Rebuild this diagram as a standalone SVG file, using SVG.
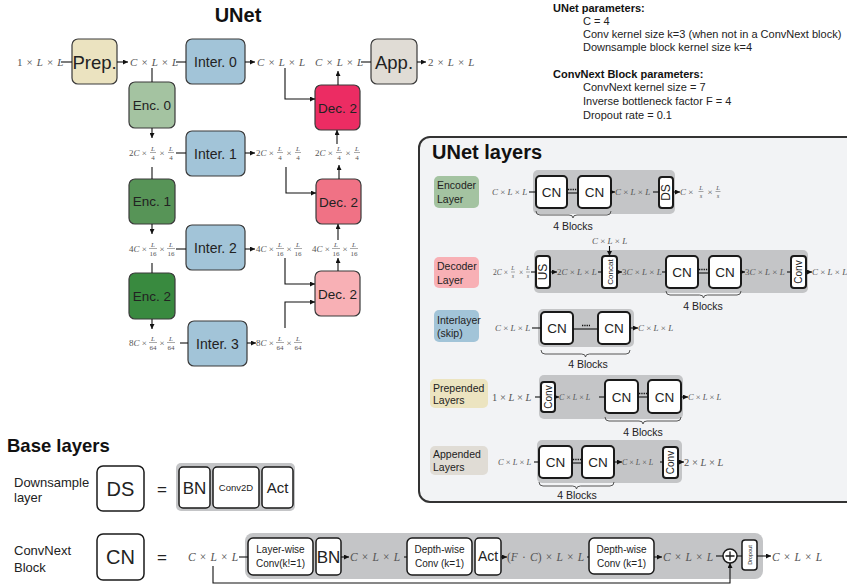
<svg xmlns="http://www.w3.org/2000/svg" width="847" height="586" viewBox="0 0 847 586">
<defs>
<marker id="ah" markerWidth="5" markerHeight="5" refX="5" refY="2.5" orient="auto" markerUnits="userSpaceOnUse"><path d="M0,0 L5,2.5 L0,5 z" fill="#111"/></marker>
<style>
.t{font-family:"Liberation Sans",Arial,sans-serif;fill:#222}
.b{font-weight:bold;fill:#111}
.m{font-family:"Liberation Serif","Times New Roman",serif;fill:#555}
.w{word-spacing:1.3px}
.i{font-style:italic}
.ub{stroke:#3a3a3a;stroke-width:1.2}
.cn{fill:#fff;stroke:#1a1a1a;stroke-width:2}
.wb{fill:#fff;stroke:#1a1a1a;stroke-width:1.5}
.gr{fill:#c4c5c7}
.ln{fill:none;stroke:#111;stroke-width:1.1}
.ar{fill:none;stroke:#111;stroke-width:1.1;marker-end:url(#ah)}
.br{fill:none;stroke:#444;stroke-width:0.9}
.dot{stroke:#111;stroke-width:1.4;stroke-dasharray:1.3 1}
.fb{stroke:#555;stroke-width:0.5}
</style>
</defs>
<rect width="847" height="586" fill="#fff"/>

<!-- Titles / parameters -->
<g id="titles">
<text class="t b" x="238" y="22" font-size="20" text-anchor="middle">UNet</text>
<text class="t b" x="7" y="452" font-size="18.5">Base layers</text>
</g>
<g id="params" class="t" font-size="11">
<text class="b" x="553" y="12">UNet parameters:</text>
<text x="583" y="25">C = 4</text>
<text x="583" y="38">Conv kernel size k=3 (when not in a ConvNext block)</text>
<text x="583" y="51">Downsample block kernel size k=4</text>
<text class="b" x="553" y="78">ConvNext Block parameters:</text>
<text x="583" y="91">ConvNext kernel size = 7</text>
<text x="583" y="105">Inverse bottleneck factor F = 4</text>
<text x="583" y="119">Dropout rate = 0.1</text>
</g>

<!-- UNet nodes -->
<g id="prep"><rect class="ub" x="72" y="39" width="45" height="45" rx="6" fill="#ebe3c0"/><text class="t" x="94.5" y="68.5" font-size="18.5" text-anchor="middle">Prep.</text></g>
<g id="inter0"><rect class="ub" x="186" y="39" width="59" height="45" rx="6" fill="#a2c4d8"/><text class="t" x="215.5" y="67" font-size="14" text-anchor="middle">Inter. 0</text></g>
<g id="app"><rect class="ub" x="371" y="39" width="46" height="45" rx="6" fill="#e0dcd5"/><text class="t" x="394" y="68.5" font-size="18.5" text-anchor="middle">App.</text></g>
<g id="enc0"><rect class="ub" x="129" y="82" width="46" height="46" rx="6" fill="#a4c3a1"/><text class="t" x="152" y="110" font-size="13.5" text-anchor="middle">Enc. 0</text></g>
<g id="dec2a"><rect class="ub" x="315" y="85" width="45" height="45" rx="6" fill="#ec2c63"/><text class="t" x="337.5" y="112.5" font-size="13.5" text-anchor="middle">Dec. 2</text></g>
<g id="inter1"><rect class="ub" x="186" y="131" width="59" height="45" rx="6" fill="#a2c4d8"/><text class="t" x="215.5" y="158.5" font-size="14" text-anchor="middle">Inter. 1</text></g>
<g id="enc1"><rect class="ub" x="129" y="179" width="46" height="45" rx="6" fill="#579457"/><text class="t" x="152" y="206" font-size="13.5" text-anchor="middle">Enc. 1</text></g>
<g id="dec2b"><rect class="ub" x="316" y="179" width="45" height="45" rx="6" fill="#f07285"/><text class="t" x="338.5" y="206.5" font-size="13.5" text-anchor="middle">Dec. 2</text></g>
<g id="inter2"><rect class="ub" x="186" y="225" width="59" height="45" rx="6" fill="#a2c4d8"/><text class="t" x="215.5" y="252.5" font-size="14" text-anchor="middle">Inter. 2</text></g>
<g id="enc2"><rect class="ub" x="129" y="273" width="46" height="46" rx="6" fill="#398a3f"/><text class="t" x="152" y="301" font-size="13.5" text-anchor="middle">Enc. 2</text></g>
<g id="dec2c"><rect class="ub" x="315" y="271" width="45" height="45" rx="6" fill="#f8b0b5"/><text class="t" x="337.5" y="298.5" font-size="13.5" text-anchor="middle">Dec. 2</text></g>
<g id="inter3"><rect class="ub" x="188" y="321" width="59" height="45" rx="6" fill="#a2c4d8"/><text class="t" x="217.5" y="348.5" font-size="14" text-anchor="middle">Inter. 3</text></g>

<!-- UNet shape labels -->
<g id="unet-labels">
<text class="m w" x="17" y="65.5" font-size="11">1 × <tspan class="i">L</tspan> × <tspan class="i">L</tspan></text>
<text class="m w" x="130" y="65.5" font-size="11"><tspan class="i">C</tspan> × <tspan class="i">L</tspan> × <tspan class="i">L</tspan></text>
<text class="m w" x="257" y="65.5" font-size="11"><tspan class="i">C</tspan> × <tspan class="i">L</tspan> × <tspan class="i">L</tspan></text>
<text class="m w" x="315" y="65.5" font-size="11"><tspan class="i">C</tspan> × <tspan class="i">L</tspan> × <tspan class="i">L</tspan></text>
<text class="m w" x="428" y="65.5" font-size="11">2 × <tspan class="i">L</tspan> × <tspan class="i">L</tspan></text>

<!-- row 2 -->
<g font-size="9">
<text class="m" x="129" y="156">2<tspan class="i">C</tspan> ×</text>
<text class="m" x="162" y="156" text-anchor="middle">×</text>
<text class="m" x="256" y="156">2<tspan class="i">C</tspan> ×</text>
<text class="m" x="289" y="156" text-anchor="middle">×</text>
<text class="m" x="315" y="156">2<tspan class="i">C</tspan> ×</text>
<text class="m" x="348" y="156" text-anchor="middle">×</text>
</g>
<g font-size="7" text-anchor="middle">
<text class="m i" x="153" y="150.5">L</text><text class="m" x="153" y="159.5">4</text>
<text class="m i" x="171" y="150.5">L</text><text class="m" x="171" y="159.5">4</text>
<text class="m i" x="280" y="150.5">L</text><text class="m" x="280" y="159.5">4</text>
<text class="m i" x="298" y="150.5">L</text><text class="m" x="298" y="159.5">4</text>
<text class="m i" x="339" y="150.5">L</text><text class="m" x="339" y="159.5">4</text>
<text class="m i" x="357" y="150.5">L</text><text class="m" x="357" y="159.5">4</text>
</g>
<g class="fb">
<line x1="150" y1="152.5" x2="156" y2="152.5"/><line x1="168" y1="152.5" x2="174" y2="152.5"/>
<line x1="277" y1="152.5" x2="283" y2="152.5"/><line x1="295" y1="152.5" x2="301" y2="152.5"/>
<line x1="336" y1="152.5" x2="342" y2="152.5"/><line x1="354" y1="152.5" x2="360" y2="152.5"/>
</g>

<!-- row 3 -->
<g font-size="9">
<text class="m" x="129" y="252">4<tspan class="i">C</tspan> ×</text>
<text class="m" x="162" y="252" text-anchor="middle">×</text>
<text class="m" x="256" y="252">4<tspan class="i">C</tspan> ×</text>
<text class="m" x="289" y="252" text-anchor="middle">×</text>
<text class="m" x="312" y="252">4<tspan class="i">C</tspan> ×</text>
<text class="m" x="345" y="252" text-anchor="middle">×</text>
</g>
<g font-size="7" text-anchor="middle">
<text class="m i" x="153" y="246.5">L</text><text class="m" x="153" y="255.5">16</text>
<text class="m i" x="171" y="246.5">L</text><text class="m" x="171" y="255.5">16</text>
<text class="m i" x="280" y="246.5">L</text><text class="m" x="280" y="255.5">16</text>
<text class="m i" x="298" y="246.5">L</text><text class="m" x="298" y="255.5">16</text>
<text class="m i" x="336" y="246.5">L</text><text class="m" x="336" y="255.5">16</text>
<text class="m i" x="354" y="246.5">L</text><text class="m" x="354" y="255.5">16</text>
</g>
<g class="fb">
<line x1="149" y1="248.5" x2="157" y2="248.5"/><line x1="167" y1="248.5" x2="175" y2="248.5"/>
<line x1="276" y1="248.5" x2="284" y2="248.5"/><line x1="294" y1="248.5" x2="302" y2="248.5"/>
<line x1="332" y1="248.5" x2="340" y2="248.5"/><line x1="350" y1="248.5" x2="358" y2="248.5"/>
</g>

<!-- row 4 -->
<g font-size="9">
<text class="m" x="129" y="346">8<tspan class="i">C</tspan> ×</text>
<text class="m" x="162" y="346" text-anchor="middle">×</text>
<text class="m" x="256" y="346">8<tspan class="i">C</tspan> ×</text>
<text class="m" x="289" y="346" text-anchor="middle">×</text>
</g>
<g font-size="7" text-anchor="middle">
<text class="m i" x="153" y="340.5">L</text><text class="m" x="153" y="349.5">64</text>
<text class="m i" x="171" y="340.5">L</text><text class="m" x="171" y="349.5">64</text>
<text class="m i" x="280" y="340.5">L</text><text class="m" x="280" y="349.5">64</text>
<text class="m i" x="298" y="340.5">L</text><text class="m" x="298" y="349.5">64</text>
</g>
<g class="fb">
<line x1="149" y1="342.5" x2="157" y2="342.5"/><line x1="167" y1="342.5" x2="175" y2="342.5"/>
<line x1="276" y1="342.5" x2="284" y2="342.5"/><line x1="294" y1="342.5" x2="302" y2="342.5"/>
</g>
</g>

<!-- UNet layers panel -->
<g id="panel">
<rect x="419" y="137" width="445" height="365" rx="11" fill="#f2f3f5" stroke="#333" stroke-width="2"/>
<text class="t b" x="432" y="159" font-size="20">UNet layers</text>
</g>

<g id="encoder-layer">
<rect x="434" y="176" width="45" height="32" rx="5" fill="#a4c3a1"/>
<text class="t" x="437" y="189" font-size="10.5" fill="#333">Encoder</text>
<text class="t" x="437" y="203" font-size="10.5" fill="#333">Layer</text>
<rect class="gr" x="533" y="170" width="142" height="44" rx="5"/>
<text class="m" x="492" y="195" font-size="9"><tspan class="i">C</tspan> × <tspan class="i">L</tspan> × <tspan class="i">L</tspan></text>
<rect class="cn" x="536" y="176" width="31" height="32" rx="4"/><text class="t" x="551.5" y="197" font-size="13.5" text-anchor="middle">CN</text>
<rect class="cn" x="578" y="176" width="33" height="32" rx="4"/><text class="t" x="594.5" y="197" font-size="13.5" text-anchor="middle">CN</text>
<text class="m" x="615" y="195" font-size="9"><tspan class="i">C</tspan> × <tspan class="i">L</tspan> × <tspan class="i">L</tspan></text>
<rect class="cn" x="659" y="177" width="14" height="31" rx="3"/>
<text class="t" transform="translate(666 192.5) rotate(-90)" x="0" y="4.3" font-size="12" text-anchor="middle">DS</text>
<text class="m" x="680" y="195" font-size="9"><tspan class="i">C</tspan> ×</text>
<text class="m" x="710" y="195" font-size="9" text-anchor="middle">×</text>
<g font-size="6.5" text-anchor="middle">
<text class="m i" x="701" y="189.5">L</text><text class="m i" x="701" y="198">s</text>
<text class="m i" x="718" y="189.5">L</text><text class="m i" x="718" y="198">s</text>
</g>
<line class="fb" x1="698.5" y1="191.5" x2="703.5" y2="191.5"/><line class="fb" x1="715.5" y1="191.5" x2="720.5" y2="191.5"/>
<path class="br" d="M536,211 q0,4 4,4 H569 q4,0 4,3 q0,-3 4,-3 H607 q4,0 4,-4"/>
<text class="t" x="573" y="230" font-size="10.5" text-anchor="middle">4 Blocks</text>
</g>

<g id="decoder-layer">
<rect x="434" y="257" width="45" height="31" rx="5" fill="#f8b0b5"/>
<text class="t" x="437" y="270" font-size="10.5" fill="#333">Decoder</text>
<text class="t" x="437" y="284" font-size="10.5" fill="#333">Layer</text>
<rect class="gr" x="534" y="250" width="274" height="43" rx="5"/>
<text class="m" x="493" y="274.5" font-size="7.5">2<tspan class="i">C</tspan> ×</text>
<text class="m" x="521" y="274.5" font-size="7.5" text-anchor="middle">×</text>
<g font-size="6" text-anchor="middle">
<text class="m i" x="513" y="270">L</text><text class="m i" x="513" y="278">s</text>
<text class="m i" x="528" y="270">L</text><text class="m i" x="528" y="278">s</text>
</g>
<line class="fb" x1="511" y1="272" x2="515" y2="272"/><line class="fb" x1="526" y1="272" x2="530" y2="272"/>
<rect class="cn" x="536" y="256" width="14" height="32" rx="3"/>
<text class="t" transform="translate(543 272) rotate(-90)" x="0" y="4.3" font-size="12" text-anchor="middle">US</text>
<text class="m" x="557" y="275" font-size="9">2<tspan class="i">C</tspan> × <tspan class="i">L</tspan> × <tspan class="i">L</tspan></text>
<text class="m" x="592" y="244" font-size="9"><tspan class="i">C</tspan> × <tspan class="i">L</tspan> × <tspan class="i">L</tspan></text>
<rect class="cn" x="602" y="256" width="15" height="32" rx="3"/>
<text class="t" transform="translate(609.5 272) rotate(-90)" x="0" y="3" font-size="8" text-anchor="middle">Concat</text>
<text class="m" x="622" y="275" font-size="9">3<tspan class="i">C</tspan> × <tspan class="i">L</tspan> × <tspan class="i">L</tspan></text>
<rect class="cn" x="666" y="256" width="32" height="32" rx="4"/><text class="t" x="682" y="277" font-size="13.5" text-anchor="middle">CN</text>
<rect class="cn" x="709" y="256" width="32" height="32" rx="4"/><text class="t" x="725" y="277" font-size="13.5" text-anchor="middle">CN</text>
<text class="m" x="745" y="275" font-size="9">3<tspan class="i">C</tspan> × <tspan class="i">L</tspan> × <tspan class="i">L</tspan></text>
<rect class="cn" x="791" y="256" width="15" height="32" rx="3"/>
<text class="t" transform="translate(798.5 272) rotate(-90)" x="0" y="3.6" font-size="10" text-anchor="middle">Conv</text>
<text class="m" x="812" y="275" font-size="9"><tspan class="i">C</tspan> × <tspan class="i">L</tspan> × <tspan class="i">L</tspan></text>
<path class="br" d="M666,291 q0,4 4,4 H699.5 q4,0 4,3 q0,-3 4,-3 H737 q4,0 4,-4"/>
<text class="t" x="703" y="310" font-size="10.5" text-anchor="middle">4 Blocks</text>
</g>

<g id="interlayer">
<rect x="434" y="310" width="45" height="32" rx="5" fill="#a2c4d8"/>
<text class="t" x="437" y="324" font-size="10.5" fill="#333">Interlayer</text>
<text class="t" x="437" y="337" font-size="10.5" fill="#333">(skip)</text>
<rect class="gr" x="538" y="309" width="96" height="38" rx="5"/>
<text class="m" x="495" y="331" font-size="9"><tspan class="i">C</tspan> × <tspan class="i">L</tspan> × <tspan class="i">L</tspan></text>
<rect class="cn" x="541" y="312" width="32" height="32" rx="4"/><text class="t" x="557" y="333" font-size="13.5" text-anchor="middle">CN</text>
<rect class="cn" x="598" y="312" width="32" height="32" rx="4"/><text class="t" x="614" y="333" font-size="13.5" text-anchor="middle">CN</text>
<text class="m" x="638" y="331" font-size="9"><tspan class="i">C</tspan> × <tspan class="i">L</tspan> × <tspan class="i">L</tspan></text>
<path class="br" d="M541,350 q0,4 4,4 H581.5 q4,0 4,3 q0,-3 4,-3 H626 q4,0 4,-4"/>
<text class="t" x="588" y="368" font-size="10.5" text-anchor="middle">4 Blocks</text>
</g>

<g id="prepended-layers">
<rect x="430" y="379" width="58" height="29" rx="5" fill="#ece4c0"/>
<text class="t" x="433" y="392" font-size="10.5" fill="#333">Prepended</text>
<text class="t" x="433" y="404" font-size="10.5" fill="#333">Layers</text>
<rect class="gr" x="539" y="375" width="144" height="44" rx="5"/>
<text class="m" x="492" y="401" font-size="10.5" fill="#333">1 × <tspan class="i">L</tspan> × <tspan class="i">L</tspan></text>
<rect class="cn" x="541" y="382" width="14" height="30" rx="3"/>
<text class="t" transform="translate(548 397) rotate(-90)" x="0" y="3.6" font-size="10" text-anchor="middle">Conv</text>
<text class="m" x="559" y="400" font-size="8"><tspan class="i">C</tspan> × <tspan class="i">L</tspan> × <tspan class="i">L</tspan></text>
<rect class="cn" x="605" y="380" width="33" height="33" rx="4"/><text class="t" x="621.5" y="401.5" font-size="13.5" text-anchor="middle">CN</text>
<rect class="cn" x="648" y="380" width="33" height="33" rx="4"/><text class="t" x="664.5" y="401.5" font-size="13.5" text-anchor="middle">CN</text>
<text class="m" x="688" y="400" font-size="8.5"><tspan class="i">C</tspan> × <tspan class="i">L</tspan> × <tspan class="i">L</tspan></text>
<path class="br" d="M605,417 q0,4 4,4 H639 q4,0 4,3 q0,-3 4,-3 H677 q4,0 4,-4"/>
<text class="t" x="643" y="436" font-size="10.5" text-anchor="middle">4 Blocks</text>
</g>

<g id="appended-layers">
<rect x="430" y="446" width="58" height="29" rx="5" fill="#e0dcd5"/>
<text class="t" x="433" y="458" font-size="10.5" fill="#333">Appended</text>
<text class="t" x="433" y="471" font-size="10.5" fill="#333">Layers</text>
<rect class="gr" x="537" y="440" width="145" height="43" rx="5"/>
<text class="m" x="498" y="465" font-size="8.5"><tspan class="i">C</tspan> × <tspan class="i">L</tspan> × <tspan class="i">L</tspan></text>
<rect class="cn" x="539" y="446" width="33" height="32" rx="4"/><text class="t" x="555.5" y="467" font-size="13.5" text-anchor="middle">CN</text>
<rect class="cn" x="582" y="446" width="32" height="32" rx="4"/><text class="t" x="598" y="467" font-size="13.5" text-anchor="middle">CN</text>
<text class="m" x="622" y="465" font-size="8"><tspan class="i">C</tspan> × <tspan class="i">L</tspan> × <tspan class="i">L</tspan></text>
<rect class="cn" x="663" y="447" width="15" height="31" rx="3"/>
<text class="t" transform="translate(670.5 462.5) rotate(-90)" x="0" y="3.6" font-size="10" text-anchor="middle">Conv</text>
<text class="m" x="684" y="466" font-size="10.5" fill="#333">2 × <tspan class="i">L</tspan> × <tspan class="i">L</tspan></text>
<path class="br" d="M539,482 q0,4 4,4 H572.5 q4,0 4,3 q0,-3 4,-3 H610 q4,0 4,-4"/>
<text class="t" x="577" y="499" font-size="10.5" text-anchor="middle">4 Blocks</text>
</g>

<!-- Base layers -->
<g id="downsample-layer">
<text class="t" x="14" y="487" font-size="13">Downsample</text>
<text class="t" x="14" y="502" font-size="13">layer</text>
<rect class="wb" x="97" y="466" width="47" height="45" rx="6"/>
<text class="t" x="120.5" y="496" font-size="20" text-anchor="middle">DS</text>
<text class="t" x="162" y="495" font-size="17" text-anchor="middle">=</text>
<rect class="gr" x="176" y="463" width="119" height="48" rx="5"/>
<rect class="wb" x="179" y="467" width="31" height="41" rx="4"/><text class="t" x="194.5" y="494" font-size="17" text-anchor="middle">BN</text>
<rect class="wb" x="213" y="467" width="46" height="41" rx="4"/><text class="t" x="236" y="491" font-size="9.5" text-anchor="middle">Conv2D</text>
<rect class="wb" x="262" y="467" width="31" height="41" rx="4"/><text class="t" x="277.5" y="493" font-size="15" text-anchor="middle">Act</text>
</g>

<g id="convnext-block">
<text class="t" x="14" y="555" font-size="13">ConvNext</text>
<text class="t" x="14" y="572" font-size="13">Block</text>
<rect class="wb" x="97" y="534" width="47" height="46" rx="6"/>
<text class="t" x="120.5" y="564" font-size="20" text-anchor="middle">CN</text>
<text class="t" x="162" y="563" font-size="17" text-anchor="middle">=</text>
<rect class="gr" x="245" y="533" width="518" height="46" rx="8"/>
<text class="m w" x="188" y="561" font-size="11.5" fill="#444"><tspan class="i">C</tspan> × <tspan class="i">L</tspan> × <tspan class="i">L</tspan></text>
<rect class="wb" x="248" y="538" width="65" height="37" rx="5"/>
<text class="t" x="280.5" y="553" font-size="10" text-anchor="middle">Layer-wise</text>
<text class="t" x="280.5" y="567" font-size="10" text-anchor="middle">Conv(k!=1)</text>
<rect class="wb" x="316" y="538" width="25" height="37" rx="4"/><text class="t" x="328.5" y="563" font-size="17" text-anchor="middle">BN</text>
<text class="m w" x="350" y="561" font-size="11.5" fill="#444"><tspan class="i">C</tspan> × <tspan class="i">L</tspan> × <tspan class="i">L</tspan></text>
<rect class="wb" x="407" y="538" width="65" height="37" rx="5"/>
<text class="t" x="439.5" y="553" font-size="10" text-anchor="middle">Depth-wise</text>
<text class="t" x="439.5" y="567" font-size="10" text-anchor="middle">Conv (k=1)</text>
<rect class="wb" x="475" y="538" width="26" height="37" rx="4"/><text class="t" x="488" y="561" font-size="14" text-anchor="middle">Act</text>
<text class="m w" x="507" y="561" font-size="11.5" fill="#444">(<tspan class="i">F</tspan> · <tspan class="i">C</tspan>) × <tspan class="i">L</tspan> × <tspan class="i">L</tspan></text>
<rect class="wb" x="589" y="538" width="65" height="36" rx="5"/>
<text class="t" x="621.5" y="552.5" font-size="10" text-anchor="middle">Depth-wise</text>
<text class="t" x="621.5" y="566.5" font-size="10" text-anchor="middle">Conv (k=1)</text>
<text class="m w" x="663" y="561" font-size="11.5" fill="#444"><tspan class="i">C</tspan> × <tspan class="i">L</tspan> × <tspan class="i">L</tspan></text>
<circle cx="730" cy="556" r="7" fill="#fff" stroke="#1a1a1a" stroke-width="1.5"/>
<path d="M725.5,556 H734.5 M730,551.5 V560.5" stroke="#1a1a1a" stroke-width="1.3"/>
<rect class="wb" x="742" y="540" width="15" height="30" rx="3"/>
<text class="t" transform="translate(749.5 555) rotate(-90)" x="0" y="2" font-size="5.5" text-anchor="middle">Dropout</text>
<text class="m w" x="772" y="561" font-size="11.5" fill="#555"><tspan class="i">C</tspan> × <tspan class="i">L</tspan> × <tspan class="i">L</tspan></text>
</g>

<!-- Connectors -->
<g id="connectors">
<!-- UNet row 1 -->
<line class="ln" x1="61" y1="62" x2="72" y2="62"/>
<line class="ar" x1="117" y1="62" x2="128" y2="62"/>
<line class="ln" x1="176" y1="62" x2="186" y2="62"/>
<line class="ar" x1="245" y1="62" x2="255" y2="62"/>
<line class="ln" x1="361" y1="62" x2="371" y2="62"/>
<line class="ar" x1="417" y1="62" x2="426" y2="62"/>
<!-- encoder column -->
<line class="ln" x1="152" y1="68" x2="152" y2="82"/>
<line class="ar" x1="152" y1="128" x2="152" y2="138"/>
<line class="ln" x1="176" y1="153" x2="186" y2="153"/>
<line class="ar" x1="245" y1="153" x2="255" y2="153"/>
<line class="ln" x1="152" y1="167" x2="152" y2="179"/>
<line class="ar" x1="152" y1="224" x2="152" y2="234"/>
<line class="ln" x1="176" y1="249" x2="186" y2="249"/>
<line class="ar" x1="245" y1="249" x2="255" y2="249"/>
<line class="ln" x1="152" y1="263" x2="152" y2="273"/>
<line class="ar" x1="152" y1="319" x2="152" y2="329"/>
<line class="ln" x1="180" y1="343" x2="188" y2="343"/>
<line class="ar" x1="247" y1="343" x2="256" y2="343"/>
<!-- skips -->
<path class="ar" d="M285,68 V99 H315"/>
<path class="ar" d="M286,167 V193 H316"/>
<path class="ar" d="M285,258 V284 H315"/>
<path class="ar" d="M285,328 V302 H315"/>
<!-- decoder column -->
<line class="ar" x1="338" y1="85" x2="338" y2="71"/>
<line class="ar" x1="337" y1="144" x2="337" y2="130"/>
<line class="ar" x1="339" y1="179" x2="339" y2="165"/>
<line class="ar" x1="338" y1="240" x2="338" y2="224"/>
<line class="ar" x1="338" y1="271" x2="338" y2="258"/>

<!-- encoder layer -->
<line class="ln" x1="529" y1="192" x2="536" y2="192"/>
<line class="ln" x1="567" y1="193" x2="578" y2="193" stroke-width="1.5"/>
<line class="dot" x1="568" y1="189.5" x2="577" y2="189.5"/>
<line class="ar" x1="611" y1="192" x2="615" y2="192"/>
<line class="ln" x1="653" y1="192" x2="659" y2="192"/>
<line class="ar" x1="673" y1="192" x2="680" y2="192"/>
<!-- decoder layer -->
<line class="ln" x1="531" y1="272" x2="536" y2="272"/>
<line class="ar" x1="550" y1="272" x2="557" y2="272"/>
<line class="ln" x1="598" y1="272" x2="602" y2="272"/>
<line class="ar" x1="609.5" y1="246" x2="609.5" y2="256"/>
<line class="ar" x1="617" y1="272" x2="622" y2="272"/>
<line class="ln" x1="662" y1="272" x2="666" y2="272"/>
<line class="ln" x1="698" y1="273" x2="709" y2="273" stroke-width="1.5"/>
<line class="dot" x1="699" y1="269.5" x2="708" y2="269.5"/>
<line class="ar" x1="741" y1="272" x2="745" y2="272"/>
<line class="ln" x1="787" y1="272" x2="791" y2="272"/>
<line class="ar" x1="806" y1="272" x2="812" y2="272"/>
<!-- interlayer -->
<line class="ln" x1="532" y1="328" x2="541" y2="328"/>
<line class="ln" x1="573" y1="329" x2="598" y2="329" stroke-width="1.5"/>
<line class="dot" x1="582" y1="325.5" x2="590" y2="325.5"/>
<line class="ar" x1="630" y1="328" x2="638" y2="328"/>
<!-- prepended -->
<line class="ln" x1="535" y1="397" x2="541" y2="397"/>
<line class="ar" x1="555" y1="397" x2="559" y2="397"/>
<line class="ln" x1="599" y1="397" x2="605" y2="397"/>
<line class="ln" x1="638" y1="397" x2="648" y2="397" stroke-width="1.5"/>
<line class="dot" x1="639" y1="393.5" x2="647" y2="393.5"/>
<line class="ar" x1="681" y1="397" x2="688" y2="397"/>
<!-- appended -->
<line class="ln" x1="534" y1="462" x2="539" y2="462"/>
<line class="ln" x1="572" y1="463" x2="582" y2="463" stroke-width="1.5"/>
<line class="dot" x1="573" y1="459.5" x2="581" y2="459.5"/>
<line class="ar" x1="614" y1="462" x2="622" y2="462"/>
<line class="ln" x1="660" y1="462" x2="663" y2="462"/>
<line class="ar" x1="678" y1="462" x2="684" y2="462"/>
<!-- convnext block -->
<line class="ln" x1="239" y1="557" x2="248" y2="557"/>
<line class="ar" x1="341" y1="557" x2="349" y2="557"/>
<line class="ln" x1="404" y1="557" x2="407" y2="557"/>
<line class="ar" x1="501" y1="557" x2="507" y2="557"/>
<line class="ln" x1="587" y1="557" x2="589" y2="557"/>
<line class="ar" x1="654" y1="557" x2="662" y2="557"/>
<line class="ln" x1="716" y1="556" x2="723" y2="556"/>
<line class="ln" x1="737" y1="556" x2="742" y2="556"/>
<line class="ar" x1="757" y1="556" x2="771" y2="556"/>
<path class="ar" d="M213,566 V583 H730 V563"/>
</g>
</svg>
